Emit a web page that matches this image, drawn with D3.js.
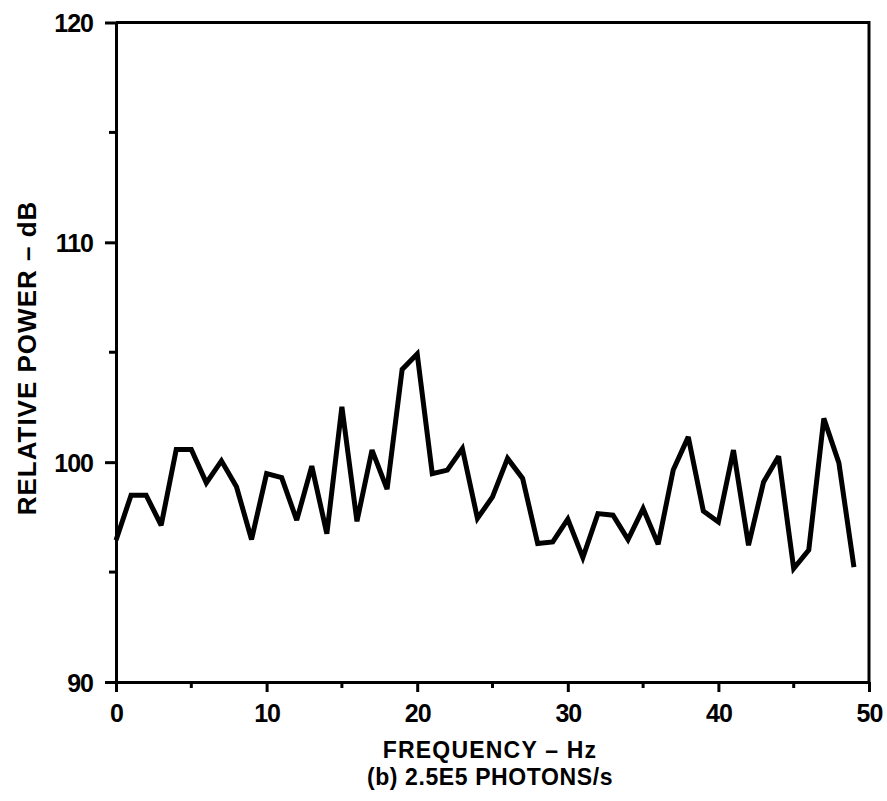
<!DOCTYPE html>
<html>
<head>
<meta charset="utf-8">
<script src="https://cdn.jsdelivr.net/npm/d3@7"></script>
<style>
  html, body { margin: 0; padding: 0; background: #fff; }
  svg { display: block; }
  text { font-family: "Liberation Sans", Arial, Helvetica, sans-serif; font-weight: bold; fill: #000; }
</style>
</head>
<body>
<script>
// Data
const frequency = d3.range(0, 50); // 0..49 Hz
const power = [
  96.45, 98.5, 98.5, 97.13, 100.58, 100.58, 99.06, 100.06, 98.88, 96.48,
  99.48, 99.3, 97.36, 99.82, 96.75, 102.52, 97.31, 100.55, 98.77, 104.22,
  104.92, 99.48, 99.64, 100.62, 97.44, 98.42, 100.17, 99.26, 96.3, 96.37,
  97.41, 95.66, 97.66, 97.59, 96.48, 97.89, 96.27, 99.64, 101.15, 97.78,
  97.28, 100.55, 96.22, 99.1, 100.27, 95.16, 96.0, 101.99, 99.97, 95.23
];
const xTicks = [0, 10, 20, 30, 40, 50];
const xMinorTicks = [5, 15, 25, 35, 45];
const yTicks = [90, 100, 110, 120];
const yMinorTicks = [95, 105, 115];
const xLabel = "FREQUENCY \u2013 Hz";
const subLabel = "(b) 2.5E5 PHOTONS/s";
const yLabel = "RELATIVE POWER \u2013 dB";

const W = 887, H = 801;
const mLeft = 116, mRight = 869, mTop = 22.5, mBottom = 682;

const svg = d3.select("body").append("svg").attr("width", W).attr("height", H);

const x = d3.scaleLinear().domain([0, 50]).range([mLeft, mRight]);
const y = d3.scaleLinear().domain([90, 120]).range([mBottom, mTop]);

// Frame (top and right)
svg.append("path")
  .attr("d", `M${mLeft},${mTop}H${mRight}V${mBottom}`)
  .attr("fill", "none").attr("stroke", "#000").attr("stroke-width", 3);

// Bottom axis
const gx = svg.append("g").attr("transform", `translate(0,${mBottom})`);
gx.call(d3.axisBottom(x).tickValues(xTicks).tickSize(10).tickSizeOuter(0).tickFormat(d3.format("d")));
gx.select(".domain").attr("stroke-width", 3);
gx.selectAll(".tick line").attr("stroke-width", 3);
gx.selectAll(".tick text").attr("font-size", 25).attr("letter-spacing", -1).attr("dy", 0).attr("y", 40)
  .attr("font-family", "Liberation Sans, Arial, sans-serif").attr("font-weight", "bold");
gx.append("g").selectAll("line").data(xMinorTicks).join("line")
  .attr("x1", d => x(d)).attr("x2", d => x(d)).attr("y1", 0).attr("y2", 6)
  .attr("stroke", "#000").attr("stroke-width", 3);

// Left axis
const gy = svg.append("g").attr("transform", `translate(${mLeft},0)`);
gy.call(d3.axisLeft(y).tickValues(yTicks).tickSize(11).tickSizeOuter(0).tickFormat(d3.format("d")));
gy.select(".domain").attr("stroke-width", 3);
gy.selectAll(".tick line").attr("stroke-width", 3);
gy.selectAll(".tick text").attr("font-size", 25).attr("letter-spacing", -1).attr("x", -23).attr("dy", "0.36em")
  .attr("font-family", "Liberation Sans, Arial, sans-serif").attr("font-weight", "bold");
gy.append("g").selectAll("line").data(yMinorTicks).join("line")
  .attr("x1", 0).attr("x2", -7).attr("y1", d => y(d)).attr("y2", d => y(d))
  .attr("stroke", "#000").attr("stroke-width", 3);

// Data line
const line = d3.line().x((d, i) => x(frequency[i])).y(d => y(d));
svg.append("path").datum(power)
  .attr("d", line)
  .attr("fill", "none").attr("stroke", "#000").attr("stroke-width", 5)
  .attr("stroke-linejoin", "miter").attr("stroke-miterlimit", 3);

// Labels
svg.append("text").attr("x", 490).attr("y", 758).attr("text-anchor", "middle")
  .attr("font-size", 23).attr("letter-spacing", 1.2).text(xLabel);
svg.append("text").attr("x", 490).attr("y", 785).attr("text-anchor", "middle")
  .attr("font-size", 23).attr("letter-spacing", 0.6).text(subLabel);
svg.append("text").attr("transform", `translate(36,358) rotate(-90)`)
  .attr("text-anchor", "middle").attr("font-size", 26).attr("letter-spacing", 1).text(yLabel);
</script>
</body>
</html>
